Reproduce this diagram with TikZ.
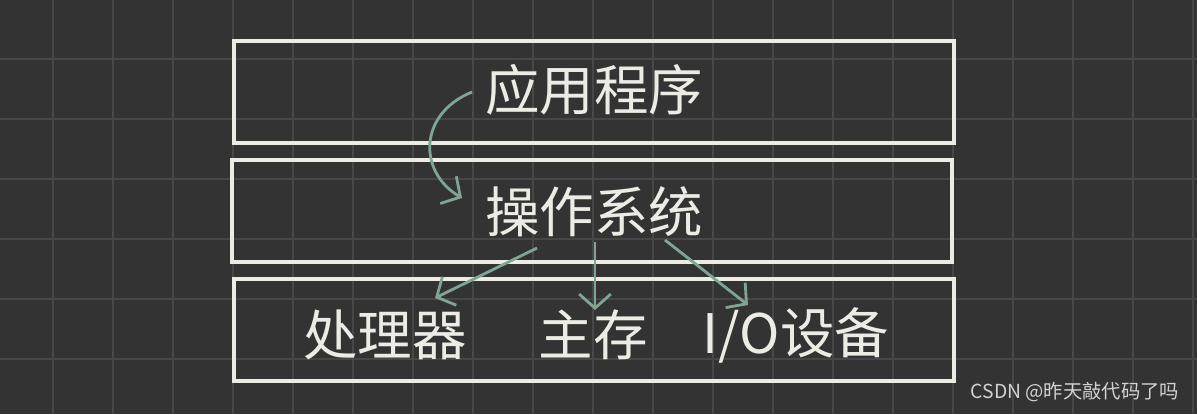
\documentclass[tikz,border=0pt]{standalone}
\usepackage{fontspec}
\setmainfont{Noto Sans CJK SC}
\usepackage{tikz}
\usetikzlibrary{arrows.meta,calc}
\definecolor{bgc}{HTML}{333333}
\definecolor{gridc}{HTML}{474747}
\definecolor{chalk}{HTML}{ECECE4}
\definecolor{sage}{HTML}{7FA595}
\definecolor{markc}{HTML}{D2D2D2}

\begin{document}
\begin{tikzpicture}[x=0.02cm,y=-0.02cm,
        layer/.style={draw=chalk,line width=1.9pt,minimum width=14.4cm,minimum height=2.04cm,inner sep=0pt},
        txt/.style={text=chalk,font=\fontsize{31}{31}\selectfont},
        flow/.style={draw=sage,line width=1.6pt,-{Straight Barb[length=8pt,width=18pt]}}]
        \fill[bgc] (0,0) rectangle (1197,414);
        \useasboundingbox (0,0) rectangle (1197,414);
        \foreach \x in {53,113,...,1193} \draw[gridc,line width=0.8pt] (\x,0) -- (\x,414);
        \foreach \y in {59,119,...,359} \draw[gridc,line width=0.8pt] (0,\y) -- (1197,\y);

        \node[layer] (L_app) at (594,92) {};
        \node[layer] (L_os) at (592,211) {};
        \node[layer] (L_hw) at (594,330) {};

        \node[txt] (app) at (594,90) {应用程序};
        \node[txt] (os) at (594,212) {操作系统};
        \node[txt] (mem) at (593,335) {主存};
        \node[txt, left of=mem, node distance=4.16cm] (cpu) {处理器};
        \node[txt, right of=mem, node distance=4.06cm] (io) {I/O设备};

        \node[text=markc,font=\fontsize{11}{11}\selectfont] (mark) at (1075,392) {CSDN @昨天敲代码了吗};

        \draw[flow] ($(app)+(-122,2)$) .. controls (418,114) and (418,172) .. ($(os)+(-132,-14)$);
        \draw[flow] ($(os)+(-57,36)$) -- ($(cpu)+(50,-37)$);
        \draw[flow] ($(os)+(1,30)$) -- ($(mem)+(2,-25)$);
        \draw[flow] ($(os)+(71,28)$) -- ($(io)+(-48,-30)$);
    \end{tikzpicture}
\end{document}
